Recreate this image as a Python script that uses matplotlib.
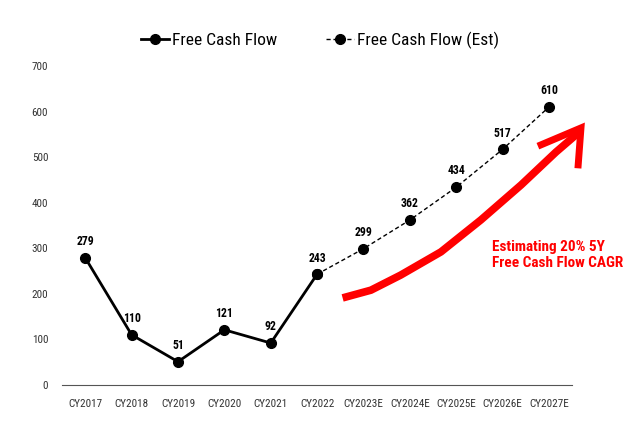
import matplotlib.pyplot as plt
from matplotlib.lines import Line2D

# Chart data
years = ["CY2017", "CY2018", "CY2019", "CY2020", "CY2021", "CY2022",
         "CY2023E", "CY2024E", "CY2025E", "CY2026E", "CY2027E"]
fcf_actual = [279, 110, 51, 121, 92, 243]
fcf_est = [243, 299, 362, 434, 517, 610]
y_ticks = [0, 100, 200, 300, 400, 500, 600, 700]

# hand-drawn red growth arrow (data coords)
arrow_x = [5.55, 6.16, 6.80, 7.67, 8.53, 9.40, 10.15, 10.63]
arrow_y = [191, 208, 241, 292, 362, 439, 511, 553]
head_x = [9.83, 10.69, 10.63]
head_y = [527, 564, 483]

narrow = ["Roboto Condensed", "DejaVu Sans"]

fig = plt.figure(figsize=(6.4, 4.34), dpi=100)
ax = fig.add_axes([0.097, 0.113, 0.797, 0.735])

x_act = list(range(len(fcf_actual)))
x_est = list(range(len(fcf_actual) - 1, len(years)))

ax.plot(x_act, fcf_actual, color="black", linewidth=2, marker="o",
        markersize=7, zorder=3)
ax.plot(x_est, fcf_est, color="black", linewidth=1, linestyle=(0, (3, 2)),
        marker="o", markersize=7, zorder=3)

for x, v in zip(x_act + x_est[1:], fcf_actual + fcf_est[1:]):
    ax.annotate(str(v), (x, v), xytext=(0, 7), textcoords="offset points",
                ha="center", va="bottom", fontsize=8.5, fontweight="bold",
                family=narrow)

# red arrow
ax.plot(arrow_x, arrow_y, color="#ff0000", linewidth=5.5, solid_capstyle="butt",
        clip_on=False, zorder=2)
ax.plot(head_x, head_y, color="#ff0000", linewidth=5, solid_joinstyle="miter",
        clip_on=False, zorder=2)
ax.text(8.78, 285, "Estimating 20% 5Y\nFree Cash Flow CAGR", color="#ff0000",
        fontsize=11, fontweight="bold", family=narrow, ha="left", va="center",
        linespacing=1.25)

ax.set_xlim(-0.5, 10.5)
ax.set_ylim(0, 700)
ax.set_xticks(range(len(years)))
ax.set_xticklabels(years, family=narrow, fontsize=8)
ax.set_yticks(y_ticks)
ax.set_yticklabels([str(t) for t in y_ticks], family=narrow, fontsize=8)
ax.tick_params(length=0, pad=10, colors="#333333")
for side in ["top", "right", "left"]:
    ax.spines[side].set_visible(False)
ax.spines["bottom"].set_color("#555555")

handles = [
    Line2D([], [], color="black", linewidth=2, marker="o", markersize=7),
    Line2D([], [], color="black", linewidth=1, linestyle=(0, (3, 2)),
           marker="o", markersize=7),
]
fig.legend(handles, ["Free Cash Flow", "Free Cash Flow (Est)"],
           loc="center", bbox_to_anchor=(0.5, 0.908), ncol=2, frameon=False,
           prop={"family": narrow, "size": 12.5}, handlelength=1.6,
           handletextpad=0.2, columnspacing=2.8)

fig.savefig("out.png", dpi=100)
